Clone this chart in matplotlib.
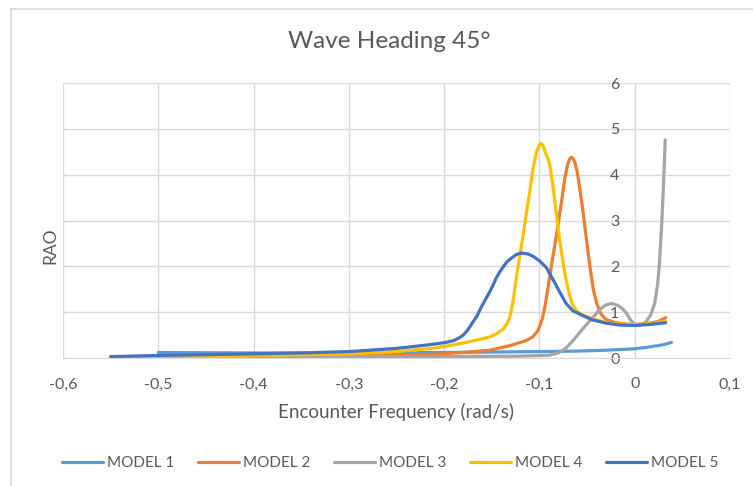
import matplotlib
matplotlib.use("Agg")
import matplotlib.pyplot as plt
from matplotlib.lines import Line2D
from matplotlib.ticker import FuncFormatter

plt.rcParams['font.family'] = ['Lato', 'DejaVu Sans']

# --- data ---
model1_x = [-0.5, -0.4, -0.3, -0.2, -0.15, -0.1, -0.06, -0.03, 0.0, 0.015, 0.03, 0.0385]
model1_y = [0.12, 0.11, 0.11, 0.12, 0.13, 0.14, 0.15, 0.17, 0.20, 0.24, 0.29, 0.34]

model2_x = [-0.55, -0.45, -0.35, -0.3, -0.25, -0.212, -0.18, -0.152, -0.131, -0.114,
            -0.107, -0.1015, -0.097, -0.094, -0.0905, -0.087, -0.0835, -0.08, -0.0765,
            -0.0735, -0.0715, -0.07, -0.068, -0.0665, -0.065, -0.063, -0.0605, -0.058,
            -0.054, -0.051, -0.047, -0.0435, -0.04, -0.036, -0.033, -0.03, -0.02,
            -0.009, 0.0, 0.016, 0.025, 0.0325]
model2_y = [0.02, 0.03, 0.04, 0.05, 0.07, 0.08, 0.12, 0.17, 0.27, 0.38,
            0.46, 0.6, 0.85, 1.15, 1.6, 2.07, 2.5, 2.97, 3.45,
            3.9, 4.12, 4.25, 4.35, 4.38, 4.36, 4.28, 4.08, 3.75,
            3.15, 2.65, 2.0, 1.5, 1.2, 0.98, 0.9, 0.84, 0.77,
            0.74, 0.73, 0.76, 0.8, 0.88]

model3_x = [-0.5, -0.4, -0.3, -0.2, -0.12, -0.09, -0.079, -0.072, -0.065, -0.058,
            -0.051, -0.044, -0.037, -0.03, -0.0245, -0.018, -0.013, -0.0088, -0.004, 0.0,
            0.006, 0.012, 0.017, 0.021, 0.024, 0.026, 0.028, 0.0297, 0.031, 0.032]
model3_y = [0.05, 0.04, 0.03, 0.03, 0.04, 0.06, 0.12, 0.22, 0.37, 0.55,
            0.72, 0.88, 1.06, 1.16, 1.19, 1.15, 1.08, 0.98, 0.82, 0.73,
            0.72, 0.79, 0.95, 1.2, 1.6, 2.07, 2.8, 3.52, 4.2, 4.76]

model4_x = [-0.55, -0.45, -0.4, -0.35, -0.3, -0.25, -0.212, -0.195, -0.177, -0.162,
            -0.152, -0.145, -0.138, -0.134, -0.131, -0.128, -0.126, -0.1235, -0.1207,
            -0.117, -0.1137, -0.11, -0.107, -0.103, -0.1, -0.098, -0.096, -0.094,
            -0.091, -0.089, -0.0855, -0.082, -0.079, -0.075, -0.072, -0.068, -0.065,
            -0.061, -0.055, -0.047, -0.035, -0.023, -0.01, 0.005, 0.02, 0.0325]
model4_y = [0.01, 0.03, 0.05, 0.07, 0.09, 0.14, 0.21, 0.27, 0.34, 0.41,
            0.46, 0.53, 0.63, 0.75, 0.9, 1.2, 1.48, 1.85, 2.21,
            2.7, 3.16, 3.65, 4.1, 4.5, 4.65, 4.68, 4.63, 4.5,
            4.35, 4.2, 3.7, 3.13, 2.6, 2.05, 1.7, 1.34, 1.15,
            1.03, 0.94, 0.88, 0.8, 0.75, 0.73, 0.73, 0.76, 0.8]

model5_x = [-0.55, -0.5, -0.4, -0.35, -0.3, -0.25, -0.215, -0.198, -0.19, -0.185,
            -0.18, -0.176, -0.173, -0.17, -0.166, -0.16, -0.156, -0.152, -0.148, -0.145,
            -0.141, -0.138, -0.134, -0.13, -0.124, -0.119, -0.112, -0.106, -0.1, -0.093,
            -0.086, -0.079, -0.072, -0.065, -0.054, -0.044, -0.03, -0.016, 0.0, 0.015,
            0.0325]
model5_y = [0.03, 0.055, 0.09, 0.11, 0.14, 0.21, 0.29, 0.34, 0.38, 0.43,
            0.5, 0.59, 0.68, 0.78, 0.9, 1.15, 1.3, 1.45, 1.62, 1.76,
            1.9, 1.99, 2.1, 2.17, 2.26, 2.29, 2.27, 2.21, 2.12, 1.98,
            1.72, 1.45, 1.19, 1.03, 0.92, 0.83, 0.76, 0.72, 0.71, 0.73,
            0.77]

series_labels = ["MODEL 1", "MODEL 2", "MODEL 3", "MODEL 4", "MODEL 5"]
series_colors = ["#5B9BD5", "#ED7D31", "#A5A5A5", "#FFC000", "#4472C4"]
x_ticks = [-0.6, -0.5, -0.4, -0.3, -0.2, -0.1, 0.0, 0.1]
y_ticks = [0, 1, 2, 3, 4, 5, 6]

text_color = "#595959"
grid_color = "#D9D9D9"

W, H = 753, 486
fig = plt.figure(figsize=(W / 100, H / 100), dpi=100)

# chart-area frame (only left and top edges are inside the picture)
fig.add_artist(Line2D([10.5 / W, 10.5 / W], [0, 1 - 9.5 / H], transform=fig.transFigure,
                      color=grid_color, lw=1.2))
fig.add_artist(Line2D([10.5 / W, 1], [1 - 9.5 / H, 1 - 9.5 / H], transform=fig.transFigure,
                      color=grid_color, lw=1.2))

left, right, top, bottom = 63, 730, 83, 358
ax = fig.add_axes([left / W, 1 - bottom / H, (right - left) / W, (bottom - top) / H])

xs = [model1_x, model2_x, model3_x, model4_x, model5_x]
ys = [model1_y, model2_y, model3_y, model4_y, model5_y]
for x, y, lab, col in zip(xs, ys, series_labels, series_colors):
    ax.plot(x, y, color=col, lw=2.3, label=lab, solid_capstyle='round',
            solid_joinstyle='round')

ax.set_xlim(-0.6, 0.1)
ax.set_ylim(0, 6)
ax.set_xticks(x_ticks)
ax.set_yticks(y_ticks)


def comma_fmt(v, pos):
    s = f"{v:.1f}".replace(".", ",")
    return "0" if s in ("0,0", "-0,0") else s


ax.xaxis.set_major_formatter(FuncFormatter(comma_fmt))
ax.grid(True, color=grid_color, lw=1.0)
ax.set_axisbelow(True)

for s in ["top", "right", "left"]:
    ax.spines[s].set_visible(False)
ax.spines["bottom"].set_color(grid_color)
ax.spines["left"].set_position(("data", 0))

ax.tick_params(axis="both", length=0, colors=text_color, labelsize=11.5)
ax.tick_params(axis="x", pad=14)
ax.tick_params(axis="y", pad=11)

fig.text(389 / W, 1 - 42 / H, "Wave Heading 45°", ha="center", va="center",
         color=text_color, fontsize=17.5)
fig.text(396 / W, 1 - 412 / H, "Encounter Frequency (rad/s)", ha="center", va="center",
         color=text_color, fontsize=13.5)
fig.text(50 / W, 1 - 246 / H, "RAO", ha="center", va="center", rotation=90,
         color=text_color, fontsize=12.5)

leg = fig.legend(loc="center", bbox_to_anchor=(390 / W, 1 - 463 / H), ncol=5,
                 frameon=False, fontsize=11, handlelength=2.7, handletextpad=0.25,
                 columnspacing=1.55)
for line in leg.get_lines():
    line.set_linewidth(2.3)
for t in leg.get_texts():
    t.set_color(text_color)

fig.savefig("out.png", dpi=100, facecolor="white")
